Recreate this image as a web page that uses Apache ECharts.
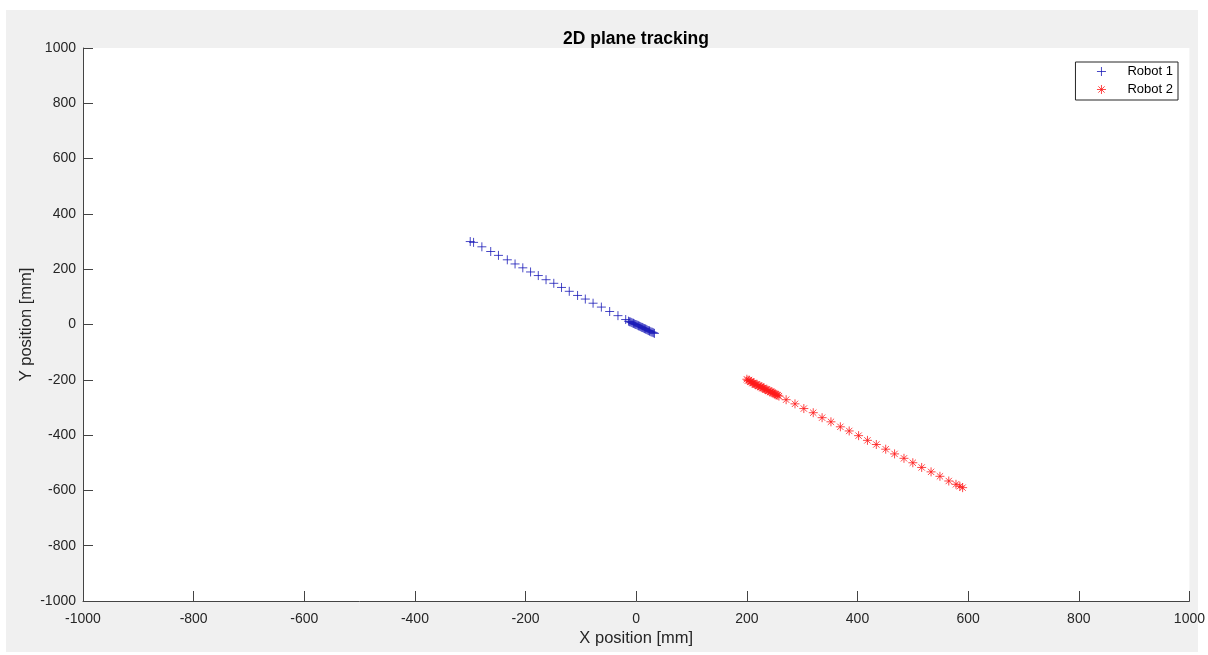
<!DOCTYPE html>
<html>
<head>
<meta charset="utf-8">
<title>2D plane tracking</title>
<script src="https://cdn.jsdelivr.net/npm/echarts@6/dist/echarts.min.js"></script>
<style>
  html, body { margin: 0; padding: 0; background: #ffffff; }
  #chart { width: 1208px; height: 655px; }
</style>
</head>
<body>
<div id="chart"></div>
<script>
// Tracked positions in millimetres
const robot1X = [-300, -294, -279, -263, -249, -233, -219, -205, -191, -177, -163, -149, -135, -121, -106, -92, -78, -63, -48, -33, -19,
  -14, -12, -10, -8, -6, -5, -3, -1, 1, 3, 4, 6, 8, 10, 11, 13, 15, 17, 18, 20, 22, 24, 25, 27, 29, 31, 33];
const robot1Y = [300, 297, 281, 264, 250, 234, 219, 205, 190, 177, 162, 149, 134, 120, 105, 92, 77, 63, 47, 32, 18,
  12, 10, 9, 7, 5, 4, 2, 0, -1, -3, -5, -6, -8, -10, -11, -13, -15, -16, -18, -20, -22, -23, -25, -27, -28, -30, -32];

const robot2X = [200, 202, 204, 206, 208, 210, 212, 214, 216, 218, 220, 222, 224, 226, 228, 230, 232, 234, 236, 238, 240, 242, 244, 246, 248, 250, 252, 254, 256, 258,
  271, 287, 303, 320, 336, 352, 369, 385, 402, 418, 434, 451, 467, 484, 500, 516, 533, 549, 565, 578, 585, 590];
const robot2Y = [-198, -203, -201, -207, -206, -212, -211, -215, -218, -217, -222, -221, -226, -225, -230, -229, -233, -236, -235, -240, -239, -244, -243, -247, -248, -251, -252, -255, -256, -259,
  -272, -287, -304, -319, -337, -352, -370, -385, -402, -419, -434, -451, -468, -484, -500, -517, -533, -549, -566, -578, -585, -590];

const seriesNames = ['Robot 1', 'Robot 2'];
const axisMin = -1000, axisMax = 1000, axisStep = 200;

const zip = (xs, ys) => xs.map((x, i) => [x, ys[i]]);

const FONT = '"Liberation Sans", Arial, Helvetica, sans-serif';
const INK = '#262626';
const AXIS = '#444444';
const BLUE = '#1a1ab8';
const RED = '#ff1a1a';

// Marker outlines: a plus sign and an eight-arm asterisk
const PLUS = 'path://M0,5L10,5M5,0L5,10';
const STAR = 'path://M0,5L10,5M5,0L5,10M1.5,1.5L8.5,8.5M8.5,1.5L1.5,8.5';

const chart = echarts.init(document.getElementById('chart'), null, { renderer: 'canvas' });

const axisCommon = {
  type: 'value', min: axisMin, max: axisMax, interval: axisStep,
  nameLocation: 'middle',
  nameMoveOverlap: false,
  nameTextStyle: { fontFamily: FONT, fontSize: 16.5, color: INK },
  axisLine: { show: true, onZero: false, lineStyle: { color: AXIS, width: 1 } },
  axisTick: { show: true, inside: true, length: 10, lineStyle: { color: AXIS } },
  splitLine: { show: false }
};

chart.setOption({
  animation: false,
  backgroundColor: '#ffffff',
  textStyle: { fontFamily: FONT },
  graphic: [{
    type: 'rect', z: -10, silent: true,
    shape: { x: 6, y: 10, width: 1192, height: 642 },
    style: { fill: '#f0f0f0' }
  }],
  title: {
    text: '2D plane tracking',
    left: 636, top: 30, textAlign: 'center', padding: 0,
    textStyle: { fontFamily: FONT, fontSize: 17.5, fontWeight: 'bold', color: '#000000' }
  },
  grid: { left: 83, right: 18, top: 48, bottom: 54, show: true, backgroundColor: '#ffffff', borderWidth: 0 },
  legend: {
    orient: 'vertical',
    right: 30, top: 62,
    backgroundColor: '#ffffff',
    borderColor: INK, borderWidth: 1,
    padding: [3, 5, 4, 21],
    itemGap: 5,
    itemWidth: 24, itemHeight: 9,
    textStyle: { fontFamily: FONT, fontSize: 13, color: '#000000', padding: [0, 0, 0, 9] },
    data: [
      { name: seriesNames[0], icon: PLUS, itemStyle: { color: 'transparent', borderColor: BLUE, borderWidth: 1 } },
      { name: seriesNames[1], icon: STAR, itemStyle: { color: 'transparent', borderColor: RED, borderWidth: 1 } }
    ]
  },
  xAxis: Object.assign({}, axisCommon, {
    name: 'X position [mm]', nameGap: 29,
    axisLabel: { fontFamily: FONT, fontSize: 14, color: INK, margin: 11, formatter: v => String(v) }
  }),
  yAxis: Object.assign({}, axisCommon, {
    name: 'Y position [mm]', nameGap: 48,
    axisLabel: { fontFamily: FONT, fontSize: 14, color: INK, margin: 7, formatter: v => String(v) }
  }),
  series: [
    {
      name: seriesNames[0], type: 'scatter',
      symbol: PLUS, symbolSize: 9,
      itemStyle: { color: 'transparent', borderColor: BLUE, borderWidth: 1 },
      data: zip(robot1X, robot1Y)
    },
    {
      name: seriesNames[1], type: 'scatter',
      symbol: STAR, symbolSize: 9,
      itemStyle: { color: 'transparent', borderColor: RED, borderWidth: 1 },
      data: zip(robot2X, robot2Y)
    }
  ]
});
</script>
</body>
</html>
